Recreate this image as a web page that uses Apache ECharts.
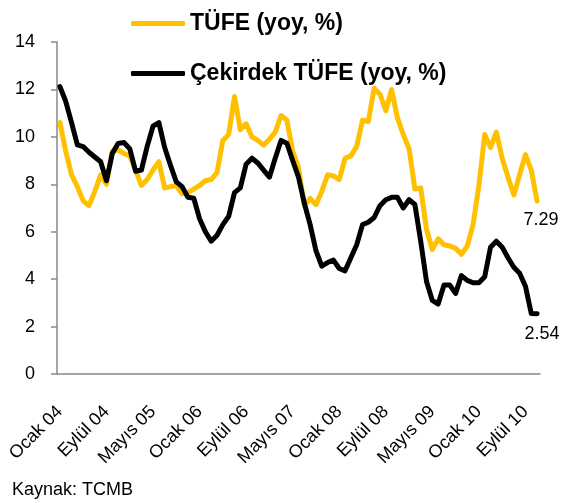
<!DOCTYPE html>
<html>
<head>
<meta charset="utf-8">
<script src="https://cdn.jsdelivr.net/npm/echarts@6/dist/echarts.min.js"></script>
<style>
  html, body { margin: 0; padding: 0; background: #fff; }
  #chart { width: 563px; height: 503px; }
</style>
</head>
<body>
<div id="chart"></div>
<script>
// aylar ve yillar (Ocak 2004 - Kasim 2010)
var monthNames = ['Ocak', 'Şubat', 'Mart', 'Nisan', 'Mayıs', 'Haziran', 'Temmuz', 'Ağustos', 'Eylül', 'Ekim', 'Kasım', 'Aralık']
var years = ['04', '05', '06', '07', '08', '09', '10']
var lastMonthCount = 11

// TÜFE (yoy, %)
var tufe = [
  10.6, 9.4, 8.4, 7.9, 7.3, 7.1, 7.7, 8.4, 8.0, 9.4, 9.45, 9.3,
  9.2, 8.6, 7.95, 8.2, 8.6, 8.95, 7.85, 7.9, 7.95, 7.6, 7.65, 7.8,
  7.95, 8.15, 8.2, 8.5, 9.85, 10.1, 11.7, 10.3, 10.55, 10.0, 9.85, 9.65,
  9.9, 10.2, 10.9, 10.7, 9.4, 8.7, 7.1, 7.4, 7.15, 7.7, 8.4, 8.35,
  8.2, 9.1, 9.2, 9.6, 10.7, 10.65, 12.05, 11.8, 11.1, 12.0, 10.8, 10.1,
  9.5, 7.8, 7.85, 6.1, 5.25, 5.7, 5.45, 5.4, 5.3, 5.05, 5.4, 6.3,
  7.95, 10.1, 9.55, 10.2, 9.1, 8.3, 7.55, 8.4, 9.25, 8.6, 7.29
]

// Çekirdek TÜFE (yoy, %)
var cekirdek = [
  12.12, 11.5, 10.6, 9.66, 9.59, 9.35, 9.15, 8.95, 8.15, 9.3, 9.72, 9.76,
  9.5, 8.55, 8.6, 9.6, 10.45, 10.6, 9.55, 8.8, 8.1, 7.9, 7.45, 7.41,
  6.55, 6.0, 5.6, 5.85, 6.3, 6.65, 7.65, 7.85, 8.85, 9.1, 8.9, 8.6,
  8.3, 9.1, 9.85, 9.73, 9.0, 8.3, 7.2, 6.3, 5.2, 4.55, 4.7, 4.8,
  4.45, 4.35, 4.9, 5.45, 6.3, 6.4, 6.6, 7.1, 7.35, 7.45, 7.45, 7.0,
  7.35, 7.15, 5.6, 3.9, 3.1, 2.95, 3.75, 3.75, 3.4, 4.15, 3.95, 3.85,
  3.85, 4.1, 5.35, 5.6, 5.35, 4.9, 4.5, 4.25, 3.7, 2.55, 2.54
]

var categories = []
years.forEach(function (y, yi) {
  var n = yi === years.length - 1 ? lastMonthCount : 12
  for (var m = 0; m < n; m++) {
    categories.push(monthNames[m] + ' ' + y)
  }
})

var axisGray = '#898989'
var fontFamily = '"Liberation Sans", Arial, sans-serif'

// son noktanin altina deger etiketi
function endLabel (dx, dy) {
  return {
    show: true,
    distance: 0,
    align: 'center',
    verticalAlign: 'middle',
    offset: [dx, dy],
    color: '#000',
    fontSize: 18,
    fontFamily: fontFamily,
    formatter: function (p) { return p.value.toFixed(2) }
  }
}

var chart = echarts.init(document.getElementById('chart'), null, { renderer: 'canvas' })

var option = {
  animation: false,
  textStyle: { fontFamily: fontFamily },
  legend: [
    {
      data: ['TÜFE (yoy, %)'],
      left: 131,
      top: 12,
      padding: 0,
      icon: 'roundRect',
      itemWidth: 54,
      itemHeight: 5,
      textStyle: { fontSize: 23, fontWeight: 'bold', color: '#000', fontFamily: fontFamily }
    },
    {
      data: ['Çekirdek TÜFE (yoy, %)'],
      left: 131,
      top: 62,
      padding: 0,
      icon: 'roundRect',
      itemWidth: 54,
      itemHeight: 5,
      textStyle: { fontSize: 23, fontWeight: 'bold', color: '#000', fontFamily: fontFamily }
    }
  ],
  grid: {
    left: 57,
    right: 23,
    top: 42,
    bottom: 129,
    containLabel: false
  },
  xAxis: {
    type: 'category',
    data: categories,
    boundaryGap: true,
    axisLine: { lineStyle: { color: axisGray, width: 1.5 } },
    axisTick: { interval: 7, length: 6, lineStyle: { color: axisGray, width: 1.5 } },
    axisLabel: {
      interval: 7,
      rotate: 45,
      margin: 35,
      fontSize: 18,
      color: '#000',
      fontFamily: fontFamily
    },
    splitLine: { show: false }
  },
  yAxis: {
    type: 'value',
    min: 0,
    max: 14,
    interval: 2,
    axisLine: { show: true, lineStyle: { color: axisGray, width: 1.5 } },
    axisTick: { show: true, length: 6, lineStyle: { color: axisGray, width: 1.5 } },
    axisLabel: { margin: 22, fontSize: 18, color: '#000', fontFamily: fontFamily },
    splitLine: { show: false }
  },
  graphic: [
    {
      type: 'text',
      left: 12,
      top: 481,
      style: { text: 'Kaynak: TCMB', fontSize: 18, fill: '#000', fontFamily: fontFamily }
    }
  ],
  series: [
    {
      name: 'TÜFE (yoy, %)',
      type: 'line',
      data: tufe,
      symbol: 'none',
      color: '#FFC000',
      lineStyle: { color: '#FFC000', width: 5, join: 'round', cap: 'round' },
      endLabel: endLabel(4, 19),
      z: 2
    },
    {
      name: 'Çekirdek TÜFE (yoy, %)',
      type: 'line',
      data: cekirdek,
      symbol: 'none',
      color: '#000',
      lineStyle: { color: '#000', width: 5, join: 'round', cap: 'round' },
      endLabel: endLabel(5, 20),
      z: 3
    }
  ]
}

chart.setOption(option)
</script>
</body>
</html>
